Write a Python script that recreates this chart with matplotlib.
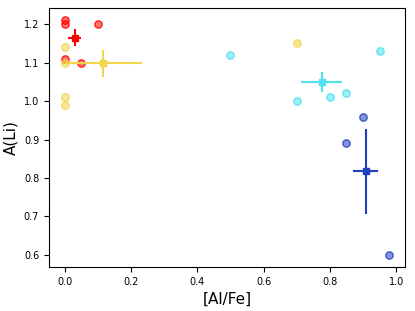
import matplotlib
matplotlib.use("Agg")
import matplotlib.pyplot as plt
from matplotlib.colors import to_rgba

# individual stars
red_x = [0.0, 0.0, 0.1, 0.0, 0.05]
red_y = [1.21, 1.20, 1.20, 1.11, 1.10]
yel_x = [0.0, 0.0, 0.0, 0.0, 0.7]
yel_y = [1.14, 1.10, 1.01, 0.99, 1.15]
cyan_x = [0.5, 0.7, 0.8, 0.85, 0.95]
cyan_y = [1.12, 1.00, 1.01, 1.02, 1.13]
blue_x = [0.9, 0.85, 0.98]
blue_y = [0.96, 0.89, 0.60]

# group means with errors
mean_x = [0.03, 0.116, 0.775, 0.908]
mean_y = [1.165, 1.098, 1.05, 0.817]
mean_xerr = [0.02, 0.117, 0.063, 0.038]
mean_yerr = [0.022, 0.034, 0.025, 0.11]
colors = ['red', '#f2d54a', '#4fe0f2', '#1f3fc0']

fig, ax = plt.subplots(figsize=(4.15, 3.11), dpi=100)

groups = [(red_x, red_y), (yel_x, yel_y), (cyan_x, cyan_y), (blue_x, blue_y)]
for (gx, gy), c in zip(groups, colors):
    ax.scatter(gx, gy, s=28, facecolors=[to_rgba(c, 0.55)],
               edgecolors=[to_rgba(c, 0.8)], linewidths=1)

for i, c in enumerate(colors):
    ax.errorbar(mean_x[i], mean_y[i], xerr=mean_xerr[i], yerr=mean_yerr[i],
                fmt='s', color=c, ms=5, elinewidth=1.5, capsize=0)

ax.set_xlim(-0.048, 1.027)
ax.set_ylim(0.569, 1.242)
ax.set_xlabel('[Al/Fe]', fontsize=11)
ax.set_ylabel('A(Li)', fontsize=11)
ax.tick_params(labelsize=7)

plt.subplots_adjust(left=0.118, right=0.976, top=0.974, bottom=0.142)
plt.savefig('out.png')
